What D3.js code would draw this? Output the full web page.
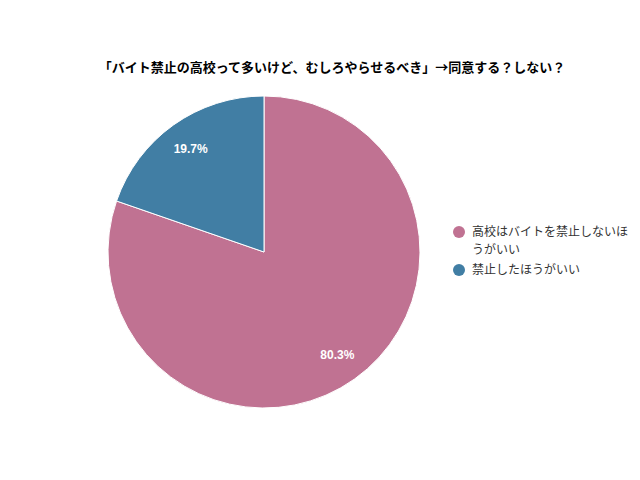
<!DOCTYPE html>
<meta charset="utf-8">
<script src="https://d3js.org/d3.v7.min.js"></script>
<style>
  body { margin: 0; background: #fff; }
  text { font-family: "Noto Sans CJK JP", "Noto Sans", sans-serif; }
</style>
<div id="chart"></div>
<script>
  // data
  var labels = ["高校はバイトを禁止しないほうがいい", "禁止したほうがいい"];
  var values = [80.3, 19.7];
  var colors = ["#c07292", "#417ea4"];
  var title = "「バイト禁止の高校って多いけど、むしろやらせるべき」→同意する？しない？";

  var width = 640, height = 480;
  var cx = 264, cy = 252, r = 156;

  var svg = d3.select("#chart").append("svg")
    .attr("width", width)
    .attr("height", height);

  svg.append("text")
    .attr("x", 332)
    .attr("y", 72)
    .attr("text-anchor", "middle")
    .style("font-size", "13px")
    .style("font-weight", "bold")
    .style("fill", "#000")
    .text(title);

  var pie = d3.pie().sort(null)
    .startAngle(0).endAngle(2 * Math.PI);
  var arcs = pie(values);
  var arc = d3.arc().innerRadius(0).outerRadius(r);
  var labelArc = d3.arc().innerRadius(r * 0.81).outerRadius(r * 0.81);

  var g = svg.append("g").attr("transform", "translate(" + cx + "," + cy + ")");

  g.selectAll("path")
    .data(arcs)
    .enter().append("path")
    .attr("d", arc)
    .attr("fill", function(d, i) { return colors[i]; })
    .attr("stroke", "#fff")
    .attr("stroke-width", 1);

  g.selectAll("text.pct")
    .data(arcs)
    .enter().append("text")
    .attr("class", "pct")
    .attr("transform", function(d) { return "translate(" + labelArc.centroid(d) + ")"; })
    .attr("text-anchor", "middle")
    .attr("dy", "0.35em")
    .style("font-family", "'Liberation Sans', Arial, sans-serif")
    .style("font-size", "12px")
    .style("font-weight", "bold")
    .style("fill", "#fff")
    .text(function(d) { return d.data.toFixed(1) + "%"; });

  // legend
  var legend = svg.append("g").attr("transform", "translate(459,232)");
  var rows = [[labels[0].slice(0, 13), labels[0].slice(13)], [labels[1]]];
  var ly = 0;
  rows.forEach(function(lines, i) {
    legend.append("circle")
      .attr("cx", 0).attr("cy", ly)
      .attr("r", 6)
      .attr("fill", colors[i]);
    lines.forEach(function(t, j) {
      legend.append("text")
        .attr("x", 13)
        .attr("y", ly + j * 18)
        .attr("dy", "0.35em")
        .style("font-size", "12px")
        .style("fill", "#333")
        .text(t);
    });
    ly += lines.length * 18 + 2;
  });
</script>
